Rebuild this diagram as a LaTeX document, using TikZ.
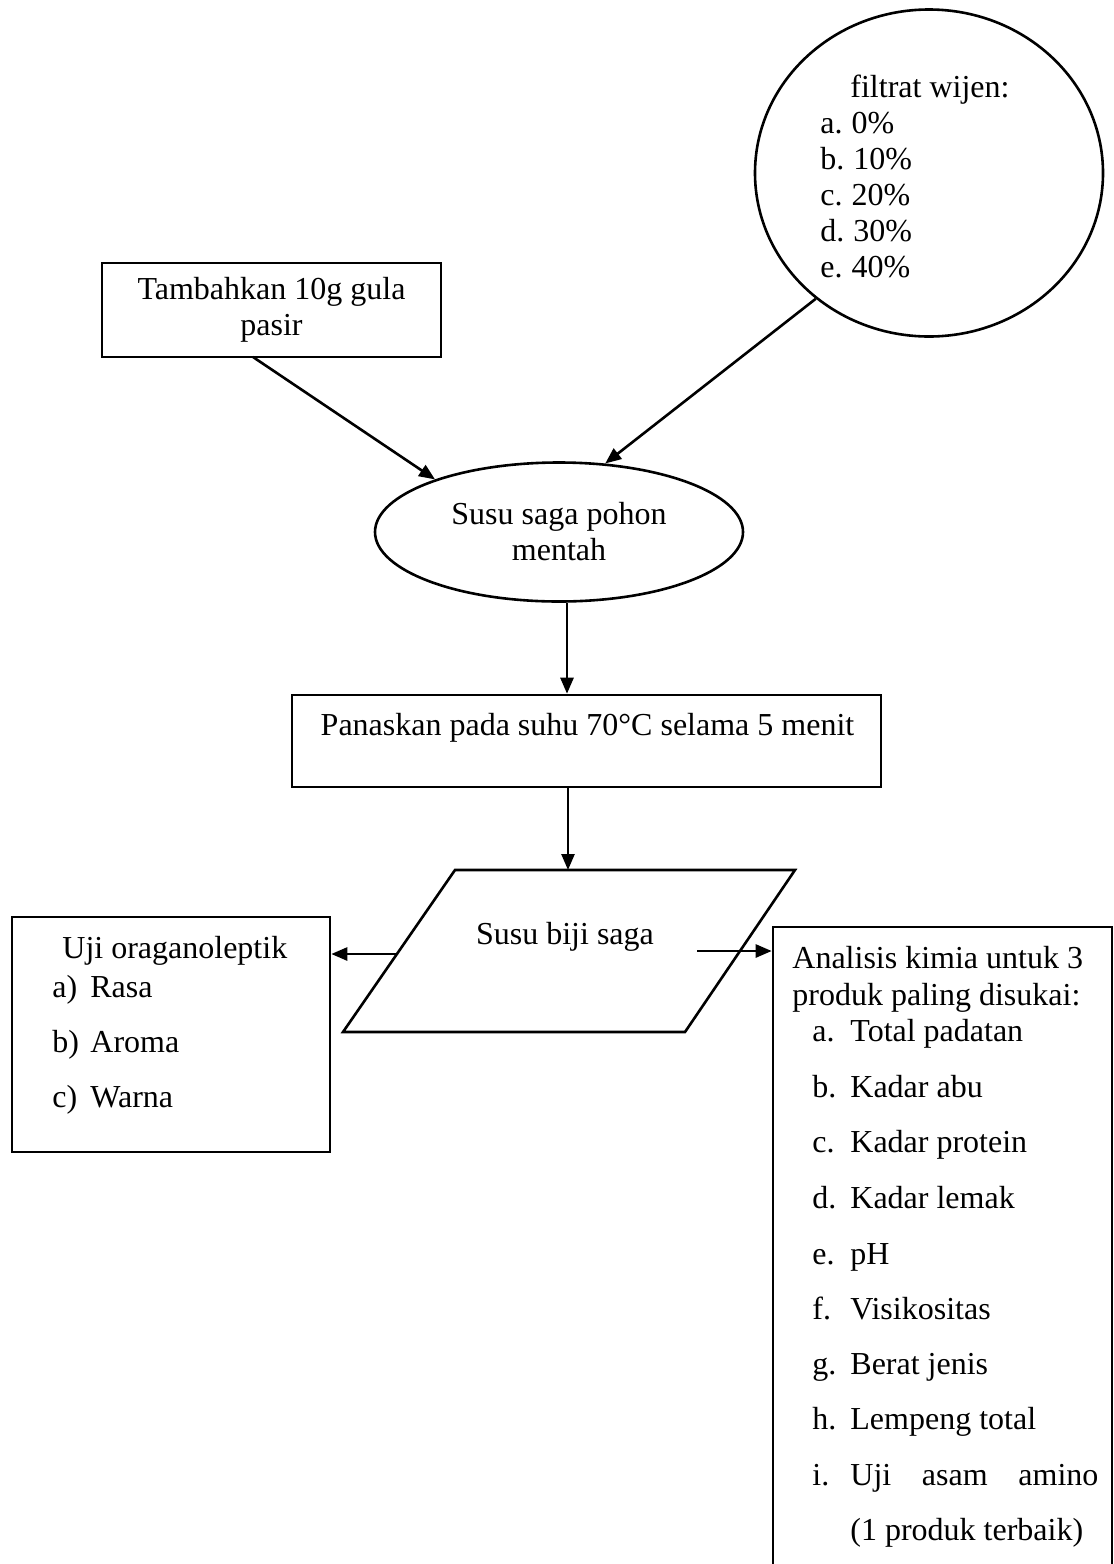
\documentclass[tikz,border=0pt]{standalone}
\usepackage{fontspec}
\setmainfont{Liberation Serif}
\usetikzlibrary{arrows.meta,shapes.geometric,calc}
\begin{document}
\begin{tikzpicture}[x=0.5pt,y=-0.5pt,
  every node/.style={font=\fontsize{16}{18}\selectfont},
  line/.style={line width=1.3pt},
  arr/.style={line width=1.3pt,-{Triangle[length=8pt,width=6.5pt]}},
  txt/.style={anchor=base west,inner sep=0pt},
  boxnode/.style={draw,line width=1.3pt,rectangle,inner sep=0pt}]
\useasboundingbox (0,0) rectangle (1114,1564);

% sugar box
\node[boxnode,minimum width=169.5pt,minimum height=47pt,align=center] (sugar) at (271.5,310) {Tambahkan 10g gula\\pasir};

% circle
\node[draw,ellipse,line width=1.3pt,minimum width=174pt,minimum height=163.5pt,inner sep=0pt] (circ) at (929,173) {};
\node[txt] (c0) at (850,97) {filtrat wijen:};
\node[txt] (c1) at (820,133) {a.\hspace{4.5pt}0\%};
\node[txt] (c2) at (820,169) {b.\hspace{4.5pt}10\%};
\node[txt] (c3) at (820,205) {c.\hspace{4.5pt}20\%};
\node[txt] (c4) at (820,241) {d.\hspace{4.5pt}30\%};
\node[txt] (c5) at (820,277) {e.\hspace{4.5pt}40\%};

% raw milk ellipse
\node[draw,ellipse,line width=1.3pt,minimum width=184pt,minimum height=69.5pt,inner sep=0pt,align=center] (raw) at (559,532) {Susu saga pohon\\mentah};

% heating box
\node[boxnode,minimum width=294.5pt,minimum height=46pt] (heat) at (586.5,741) {};
\node[anchor=base,inner sep=0pt] (heattxt) at (587.5,735) {Panaskan pada suhu 70°C selama 5 menit};

% parallelogram
\coordinate (p1) at (455,870);
\coordinate (p2) at (795,870);
\coordinate (p3) at (685,1032);
\coordinate (p4) at (343,1032);
\draw[line,line join=miter] (p1) -- (p2) -- (p3) -- (p4) -- cycle;
\node[anchor=base,inner sep=0pt] (biji) at (565,944) {Susu biji saga};

% left box
\node[boxnode,minimum width=159pt,minimum height=117.5pt] (lbox) at (171,1034.5) {};
\node[txt] (l0) at (62,958) {Uji oraganoleptik};
\node[txt] (la) at (52,997) {a)};
\node[txt] (lat) at (90,997) {Rasa};
\node[txt] (lb) at (52,1052) {b)};
\node[txt] (lbt) at (90,1052) {Aroma};
\node[txt] (lc) at (52,1107) {c)};
\node[txt] (lct) at (90,1107) {Warna};

% right box (continues beyond page)
\node[boxnode,minimum width=169.5pt,minimum height=322.5pt] (rbox) at (942.5,1249.5) {};
\node[txt] (r0) at (792,968) {Analisis kimia untuk 3};
\node[txt] (r1) at (792,1005) {produk paling disukai:};
\node[txt] (ra) at (812,1041) {a.};
\node[txt] (rat) at (850,1041) {Total padatan};
\node[txt] (rb) at (812,1097) {b.};
\node[txt] (rbt) at (850,1097) {Kadar abu};
\node[txt] (rc) at (812,1152) {c.};
\node[txt] (rct) at (850,1152) {Kadar protein};
\node[txt] (rd) at (812,1208) {d.};
\node[txt] (rdt) at (850,1208) {Kadar lemak};
\node[txt] (re) at (812,1264) {e.};
\node[txt] (ret) at (850,1264) {pH};
\node[txt] (rf) at (812,1319) {f.};
\node[txt] (rft) at (850,1319) {Visikositas};
\node[txt] (rg) at (812,1374) {g.};
\node[txt] (rgt) at (850,1374) {Berat jenis};
\node[txt] (rh) at (812,1429) {h.};
\node[txt] (rht) at (850,1429) {Lempeng total};
\node[txt] (ri) at (812,1485) {i.};
\node[txt] (rit) at (850,1485) {\makebox[124pt][s]{Uji asam amino}};
\node[txt] (rj) at (850,1540) {(1 produk terbaik)};

% connectors
\coordinate (s1) at (253,357);
\draw[arr] (s1) -- (raw.157);
\draw[arr] (circ.228) -- (raw.56);
\draw[arr] ([xshift=4pt]raw.south) -- ([xshift=4pt]raw.south |- heat.north);
\coordinate (h1) at (568,787);
\draw[arr] (h1) -- (h1 |- p1);
\coordinate (lstart) at (397,954);
\draw[arr] (lstart) -- (lstart -| lbox.east);
\coordinate (rstart) at (697,951);
\draw[arr] (rstart) -- (rstart -| rbox.west);
\end{tikzpicture}
\end{document}
